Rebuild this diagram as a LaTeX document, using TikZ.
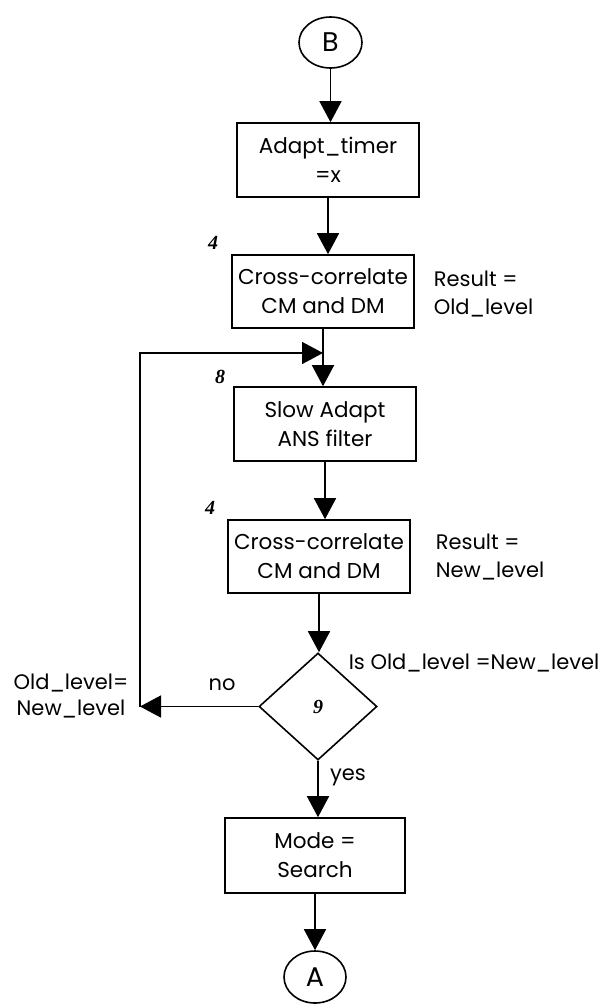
\documentclass[tikz,border=0pt]{standalone}
\usepackage{fontspec}
\setmainfont{Poppins}
\newfontfamily\numfont{Liberation Serif}
\usetikzlibrary{shapes.geometric,arrows.meta}
\begin{document}
\begin{tikzpicture}[x=1pt,y=-1pt,
  line width=1.6pt,
  arr/.style={-{Triangle[length=21pt,width=22pt]}},
  box/.style={draw,rectangle,minimum width=182pt,minimum height=74pt,inner sep=0pt,align=center,font=\fontsize{21.5}{29}\selectfont},
  conn/.style={draw,ellipse,minimum width=63pt,minimum height=51pt,inner sep=0pt,font=\fontsize{27}{27}\selectfont},
  lbl/.style={align=left,font=\fontsize{21}{28}\selectfont,inner sep=0pt},
  num/.style={font=\numfont\bfseries\itshape\fontsize{20}{20}\selectfont,inner sep=0pt}
]
\useasboundingbox (0,0) rectangle (605,1004);

\node[conn] (B) at (330.5,42.5) {B};
\node[box] (adapt) at (328,160) {Adapt\_timer\\=x};
\node[box,minimum height=73pt] (cc1) at (323,291.5) {Cross-correlate\\CM and DM};
\node[box] (slow) at (325,424) {Slow Adapt\\ANS filter};
\node[box,minimum height=73pt] (cc2) at (319,556.5) {Cross-correlate\\CM and DM};
\node[draw,diamond,minimum width=118pt,minimum height=107pt,inner sep=0pt] (dia) at (318,706.5) {};
\node[box,minimum width=180pt,minimum height=75pt] (mode) at (315,855.5) {Mode =\\Search};
\node[conn,minimum width=62pt,minimum height=52pt] (A) at (315,977) {A};

\draw[arr] (B.south) -- (B.south |- adapt.north);
\draw[arr] (adapt.south) -- (adapt.south |- cc1.north);
\draw[arr] (cc1.south) -- (cc1.south |- slow.north);
\draw[arr] (slow.south) -- (slow.south |- cc2.north);
\draw[arr] (cc2.south) -- (cc2.south |- dia.north);
\draw[arr] (dia.south) -- (dia.south |- mode.north);
\draw[arr] (mode.south) -- (mode.south |- A.north);

\coordinate (lt) at (140,353);
\draw[arr] (dia.west) -- (dia.west -| lt);
\draw[arr] (dia.west -| lt) -- (lt) -- (lt -| cc1.south);

\node[num] (n4a) at (213,243) {4};
\node[num] (n8) at (220,377) {8};
\node[num] (n4b) at (210,508) {4};
\node[num] (n9) at (dia.center) {9};

\node[lbl,anchor=west] (r1) at (433,294) {Result =\\Old\_level};
\node[lbl,anchor=west] (r2) at (435,557.5) {Result =\\New\_level};
\node[lbl,anchor=west] (q) at (348,663) {Is Old\_level =New\_level};
\node[lbl] (no) at (222,685) {no};
\node[lbl,align=center,font=\fontsize{21}{26}\selectfont] (ol) at (71,696) {Old\_level=\\New\_level};
\node[lbl] (yes) at (348,777) {yes};
\end{tikzpicture}
\end{document}
